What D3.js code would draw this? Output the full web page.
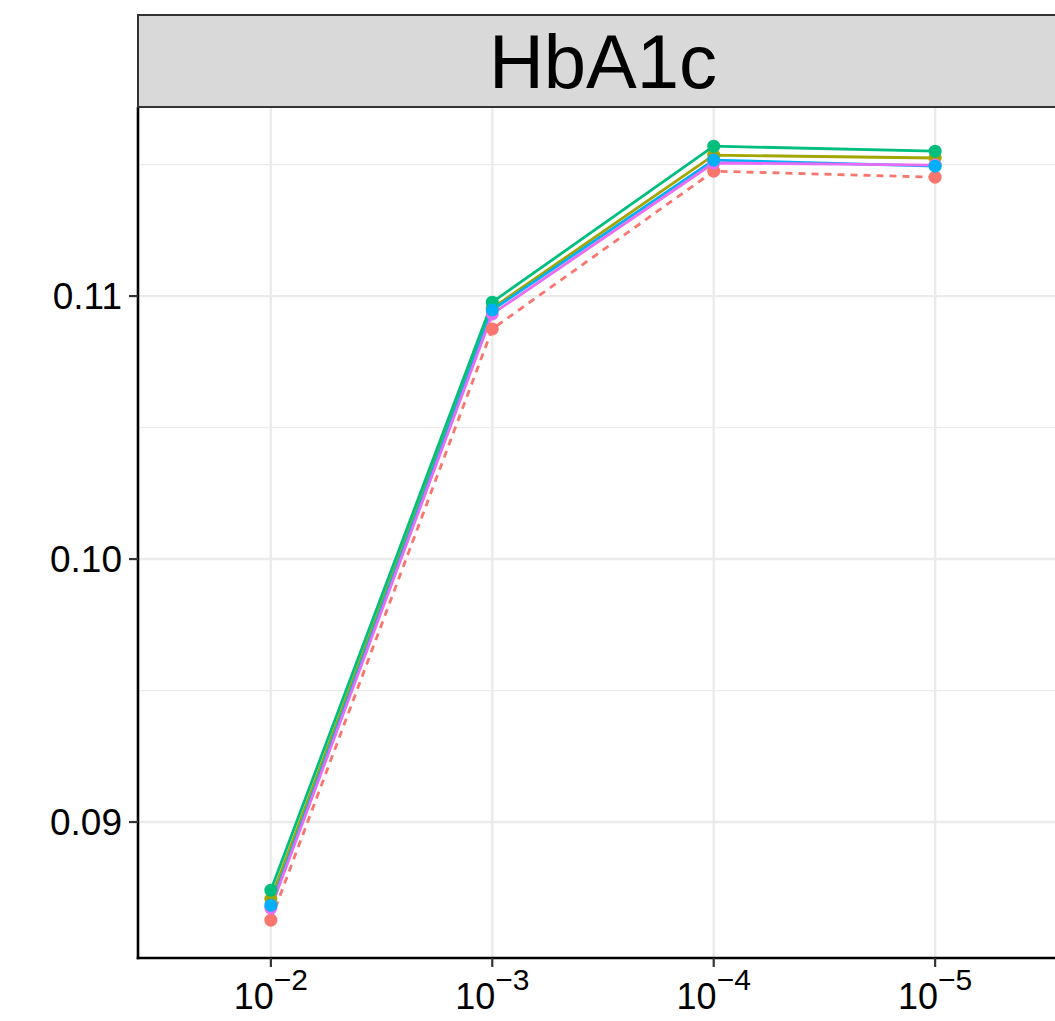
<!DOCTYPE html>
<html>
<head>
<meta charset="utf-8">
<script src="https://cdn.jsdelivr.net/npm/d3@7"></script>
<style>
  html, body { margin: 0; padding: 0; background: #fff; overflow: hidden; }
  svg { display: block; font-family: "Liberation Sans", Arial, sans-serif; }
</style>
</head>
<body>
<div id="chart"></div>
<script>
// categories on the x axis (learning rate), as exponents of 10
const exponents = [-2, -3, -4, -5];

// series (ggplot default hue order)
const seriesNames = ["s1", "s2", "s3", "s4", "s5"];
const seriesColors = ["#F8766D", "#A3A500", "#00BF7D", "#00B0F6", "#E76BF3"];
const seriesDash = ["7,6", null, null, null, null];
// order in which the points are stacked
const pointOrder = [0, 1, 2, 4, 3];

// values
const s1 = [0.08627, 0.10875, 0.11475, 0.11452];
const s2 = [0.08707, 0.10954, 0.11536, 0.11525];
const s3 = [0.08741, 0.10977, 0.11570, 0.11551];
const s4 = [0.08684, 0.10947, 0.11517, 0.11494];
const s5 = [0.08673, 0.10932, 0.11506, 0.11498];
const seriesValues = [s1, s2, s3, s4, s5];

const yTicks = [0.09, 0.10, 0.11];
const yMinor = [0.095, 0.105, 0.115];
const facetTitle = "HbA1c";

const width = 1055, height = 1021;
const panel = { left: 138, right: 1068, top: 107, bottom: 958 };
const stripTop = 15;

const svg = d3.select("#chart").append("svg")
  .attr("width", width)
  .attr("height", height);

const x = d3.scalePoint()
  .domain(exponents)
  .range([panel.left, panel.right])
  .padding(0.6);

const y = d3.scaleLinear()
  .domain([0.08483, 0.11719])
  .range([panel.bottom, panel.top]);

// gridlines
const grid = svg.append("g");
grid.selectAll(".minor")
  .data(yMinor)
  .join("line")
  .attr("x1", panel.left).attr("x2", panel.right)
  .attr("y1", d => y(d)).attr("y2", d => y(d))
  .attr("stroke", "#EBEBEB").attr("stroke-width", 1.2);
grid.selectAll(".major")
  .data(yTicks)
  .join("line")
  .attr("x1", panel.left).attr("x2", panel.right)
  .attr("y1", d => y(d)).attr("y2", d => y(d))
  .attr("stroke", "#EBEBEB").attr("stroke-width", 2.4);
grid.selectAll(".vmajor")
  .data(exponents)
  .join("line")
  .attr("x1", d => x(d)).attr("x2", d => x(d))
  .attr("y1", panel.top).attr("y2", panel.bottom)
  .attr("stroke", "#EBEBEB").attr("stroke-width", 2.4);

// lines layer
const line = d3.line()
  .x((d, i) => x(exponents[i]))
  .y(d => y(d));

svg.append("g").selectAll("path")
  .data(seriesValues)
  .join("path")
  .attr("d", d => line(d))
  .attr("fill", "none")
  .attr("stroke", (d, i) => seriesColors[i])
  .attr("stroke-width", 2.8)
  .attr("stroke-dasharray", (d, i) => seriesDash[i]);

// points layer
const pts = svg.append("g");
pointOrder.forEach(i => {
  pts.append("g").selectAll("circle")
    .data(seriesValues[i])
    .join("circle")
    .attr("cx", (d, j) => x(exponents[j]))
    .attr("cy", d => y(d))
    .attr("r", 6.5)
    .attr("fill", seriesColors[i]);
});

// axis lines
svg.append("line")
  .attr("x1", panel.left).attr("x2", panel.left)
  .attr("y1", panel.top).attr("y2", panel.bottom + 1.3)
  .attr("stroke", "#000").attr("stroke-width", 2.6);
svg.append("line")
  .attr("x1", panel.left - 1.3).attr("x2", panel.right)
  .attr("y1", panel.bottom).attr("y2", panel.bottom)
  .attr("stroke", "#000").attr("stroke-width", 2.6);

// y ticks and labels
const yAxis = svg.append("g");
yAxis.selectAll("line")
  .data(yTicks)
  .join("line")
  .attr("x1", panel.left - 9).attr("x2", panel.left)
  .attr("y1", d => y(d)).attr("y2", d => y(d))
  .attr("stroke", "#333").attr("stroke-width", 2.2);
yAxis.selectAll("text")
  .data(yTicks)
  .join("text")
  .attr("x", panel.left - 16)
  .attr("y", d => y(d))
  .attr("dy", "0.36em")
  .attr("text-anchor", "end")
  .attr("font-size", 37)
  .attr("fill", "#000")
  .text(d => d3.format(".2f")(d));

// x ticks and labels
const xAxis = svg.append("g");
xAxis.selectAll("line")
  .data(exponents)
  .join("line")
  .attr("x1", d => x(d)).attr("x2", d => x(d))
  .attr("y1", panel.bottom).attr("y2", panel.bottom + 9)
  .attr("stroke", "#333").attr("stroke-width", 2.2);
const xl = xAxis.selectAll("text")
  .data(exponents)
  .join("text")
  .attr("x", d => x(d))
  .attr("y", 1009)
  .attr("text-anchor", "middle")
  .attr("font-size", 36)
  .attr("fill", "#000");
xl.append("tspan").text("10");
xl.append("tspan")
  .attr("font-size", 30)
  .attr("dy", -19)
  .text(d => "\u2212" + Math.abs(d));

// facet strip
svg.append("rect")
  .attr("x", panel.left)
  .attr("y", stripTop)
  .attr("width", panel.right - panel.left)
  .attr("height", panel.top - stripTop)
  .attr("fill", "#D9D9D9")
  .attr("stroke", "#333")
  .attr("stroke-width", 2);
svg.append("text")
  .attr("x", (panel.left + panel.right) / 2)
  .attr("y", (stripTop + panel.top) / 2)
  .attr("dy", "0.36em")
  .attr("text-anchor", "middle")
  .attr("font-size", 76)
  .attr("fill", "#000")
  .text(facetTitle);
</script>
</body>
</html>
